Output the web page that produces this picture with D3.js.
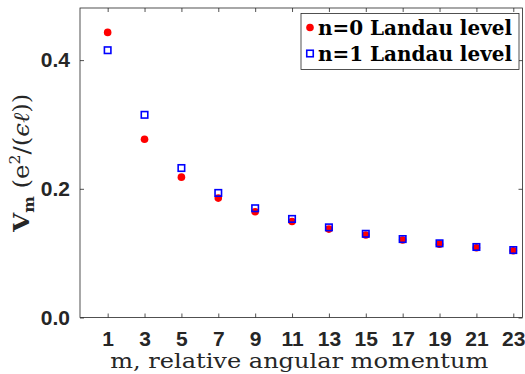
<!DOCTYPE html>
<html>
<head>
<meta charset="utf-8">
<script src="https://cdn.jsdelivr.net/npm/d3@7"></script>
<style>
  html, body { margin: 0; padding: 0; background: #fff; }
  svg { display: block; }
</style>
</head>
<body>
<svg id="chart" width="525" height="374"></svg>
<script>
// relative angular momentum m (odd values)
const mValues = [1, 3, 5, 7, 9, 11, 13, 15, 17, 19, 21, 23];
// Haldane pseudopotentials, n=0 Landau level
const vLevel0 = [0.4431, 0.2770, 0.2181, 0.1856, 0.1644, 0.1491, 0.1374, 0.1281, 0.1204, 0.1140, 0.1085, 0.1037];
// Haldane pseudopotentials, n=1 Landau level
const vLevel1 = [0.4154, 0.3150, 0.2323, 0.1936, 0.1698, 0.1532, 0.1401, 0.1301, 0.1219, 0.1153, 0.1096, 0.1048];
const yTicks = [0, 0.2, 0.4];
const legendLabels = ['n=0 Landau level', 'n=1 Landau level'];

const svg = d3.select('#chart');
const plotL = 80, plotR = 522.5, plotT = 8, plotB = 317.5;

const x = d3.scaleLinear().domain([-0.5, 23.5]).range([plotL, plotR]);
const y = d3.scaleLinear().domain([0, 0.481]).range([plotB, plotT]);

const axisColor = '#262626';
const tickFont = '"Liberation Sans", Arial, sans-serif';
const serif = '"DejaVu Serif", "Liberation Serif", serif';

// axes with inward ticks on all four sides
const xb = svg.append('g').attr('transform', `translate(0,${plotB})`)
  .call(d3.axisBottom(x).tickValues(mValues).tickSizeInner(-4).tickSizeOuter(0).tickPadding(14));
const xt = svg.append('g').attr('transform', `translate(0,${plotT})`)
  .call(d3.axisTop(x).tickValues(mValues).tickSizeInner(-4).tickSizeOuter(0).tickFormat(''));
const yl = svg.append('g').attr('transform', `translate(${plotL},0)`)
  .call(d3.axisLeft(y).tickValues(yTicks).tickSizeInner(-4).tickSizeOuter(0).tickPadding(10).tickFormat(d3.format('.1f')));
const yr = svg.append('g').attr('transform', `translate(${plotR},0)`)
  .call(d3.axisRight(y).tickValues(yTicks).tickSizeInner(-4).tickSizeOuter(0).tickFormat(''));

[xb, xt, yl, yr].forEach(g => {
  g.select('.domain').remove();
  g.selectAll('.tick line').attr('stroke', axisColor).attr('stroke-width', 0.8);
  g.selectAll('.tick text')
    .attr('fill', axisColor)
    .style('font-family', tickFont)
    .style('font-weight', 'bold')
    .style('font-size', '21px');
});

svg.append('rect')
  .attr('x', plotL).attr('y', plotT)
  .attr('width', plotR - plotL).attr('height', plotB - plotT)
  .attr('fill', 'none').attr('stroke', axisColor).attr('stroke-width', 0.8);

// n=0: red filled circles
svg.append('g').selectAll('circle')
  .data(mValues.map((m, i) => [m, vLevel0[i]]))
  .enter().append('circle')
  .attr('cx', d => x(d[0])).attr('cy', d => y(d[1]))
  .attr('r', 3.8).attr('fill', '#ff0000');

// n=1: blue open squares
const sq = 6.5;
svg.append('g').selectAll('rect')
  .data(mValues.map((m, i) => [m, vLevel1[i]]))
  .enter().append('rect')
  .attr('x', d => x(d[0]) - sq / 2).attr('y', d => y(d[1]) - sq / 2)
  .attr('width', sq).attr('height', sq)
  .attr('fill', 'none').attr('stroke', '#0000ff').attr('stroke-width', 1.6);

// axis titles
svg.append('text')
  .attr('x', (plotL + plotR) / 2 - 2).attr('y', 368)
  .attr('text-anchor', 'middle')
  .attr('textLength', 378).attr('lengthAdjust', 'spacingAndGlyphs')
  .style('font-family', serif).style('font-size', '21px')
  .attr('fill', '#262626')
  .text('m, relative angular momentum');

const yt = svg.append('text')
  .attr('transform', `translate(29,${(plotT + plotB) / 2}) rotate(-90)`)
  .attr('text-anchor', 'middle')
  .attr('textLength', 138).attr('lengthAdjust', 'spacingAndGlyphs')
  .style('font-family', serif).style('font-size', '22px')
  .attr('fill', '#262626');
yt.append('tspan').style('font-weight', 'bold').text('V');
yt.append('tspan').style('font-weight', 'bold').style('font-size', '14px').attr('dy', 5).text('m');
yt.append('tspan').attr('dy', -5).text(' (e');
yt.append('tspan').style('font-size', '14px').attr('dy', -9).text('2');
yt.append('tspan').attr('dy', 9).text('/(');
yt.append('tspan').style('font-style', 'italic').text('ϵℓ');
yt.append('tspan').text('))');

// legend
const lg = svg.append('g');
lg.append('rect')
  .attr('x', 301).attr('y', 13.5).attr('width', 218).attr('height', 56)
  .attr('fill', '#fff').attr('stroke', '#262626').attr('stroke-width', 0.8);
legendLabels.forEach((label, i) => {
  const cy = 27.5 + i * 26;
  if (i === 0) {
    lg.append('circle').attr('cx', 310).attr('cy', cy).attr('r', 3.8).attr('fill', '#ff0000');
  } else {
    lg.append('rect').attr('x', 310 - sq / 2).attr('y', cy - sq / 2)
      .attr('width', sq).attr('height', sq)
      .attr('fill', 'none').attr('stroke', '#0000ff').attr('stroke-width', 1.6);
  }
  lg.append('text')
    .attr('x', 318).attr('y', cy + 7)
    .attr('textLength', 194).attr('lengthAdjust', 'spacingAndGlyphs')
    .style('font-family', serif).style('font-size', '20px').style('font-weight', 'bold')
    .attr('fill', '#000')
    .text(label);
});
</script>
</body>
</html>
